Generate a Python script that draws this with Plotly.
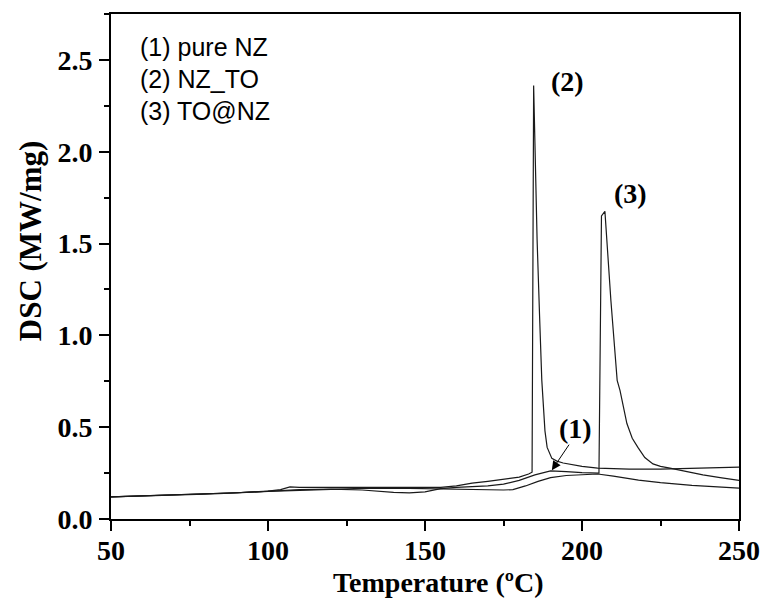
import plotly.graph_objects as go

# DSC heating curves (temperature in deg C, heat flow in MW/mg)
temp_pure = [50, 60, 70, 80, 90, 100, 110, 120, 130, 140, 150, 155, 160, 165, 170,
             175, 178, 182, 186, 190, 195, 200, 205, 210, 218, 225, 235, 250]
dsc_pure = [0.120, 0.125, 0.130, 0.136, 0.143, 0.150, 0.155, 0.163, 0.167, 0.168,
            0.165, 0.163, 0.160, 0.158, 0.157, 0.158, 0.160, 0.180, 0.205, 0.225,
            0.237, 0.243, 0.245, 0.233, 0.212, 0.198, 0.183, 0.168]

temp_nzto = [50, 60, 70, 80, 90, 100, 104, 107, 110, 120, 130, 140, 150, 155, 160,
             165, 170, 175, 180, 183, 184.1, 184.6, 185.7, 186.5, 187.2, 188.2,
             188.9, 190.4, 192, 194, 200, 205, 215, 225, 235, 245, 250]
dsc_nzto = [0.120, 0.125, 0.130, 0.137, 0.143, 0.152, 0.160, 0.175, 0.172, 0.172,
            0.172, 0.172, 0.170, 0.172, 0.180, 0.195, 0.205, 0.215, 0.228, 0.245,
            0.255, 2.360, 1.520, 1.100, 0.755, 0.480, 0.390, 0.330, 0.315, 0.305,
            0.287, 0.277, 0.272, 0.272, 0.275, 0.278, 0.283]

temp_tonz = [50, 60, 70, 80, 90, 100, 110, 120, 130, 140, 145, 150, 155, 160, 165,
             170, 175, 180, 185, 190, 195, 200, 205.4, 206.2, 207.3, 209.2, 211.2,
             212.1, 214.3, 216, 217.8, 220, 222.6, 225, 228, 232, 238.5, 244, 250]
dsc_tonz = [0.120, 0.124, 0.130, 0.136, 0.142, 0.150, 0.160, 0.163, 0.158, 0.145,
            0.142, 0.148, 0.165, 0.172, 0.175, 0.180, 0.190, 0.210, 0.240, 0.262,
            0.258, 0.252, 0.250, 1.650, 1.675, 1.190, 0.755, 0.700, 0.520, 0.440,
            0.390, 0.335, 0.300, 0.287, 0.277, 0.262, 0.240, 0.225, 0.210]

legend_lines = ["(1) pure NZ", "(2) NZ_TO", "(3) TO@NZ"]
x_ticks = [50, 100, 150, 200, 250]
y_ticks = [0.0, 0.5, 1.0, 1.5, 2.0, 2.5]

line_style = dict(color="#1a1a1a", width=1.2)

fig = go.Figure()
for t, d in [(temp_pure, dsc_pure), (temp_nzto, dsc_nzto), (temp_tonz, dsc_tonz)]:
    fig.add_trace(go.Scatter(x=t, y=d, mode="lines", line=line_style,
                             showlegend=False, hoverinfo="skip"))

def serif_bold(size):
    return dict(family="Liberation Serif", size=size, color="black", weight="bold")

axis_common = dict(
    showline=True, linecolor="black", linewidth=2, mirror=True,
    ticks="outside", ticklen=10, tickwidth=2, tickcolor="black",
    showgrid=False, zeroline=False, tickfont=serif_bold(28), automargin=False,
)

fig.update_xaxes(range=[50, 250], tickvals=x_ticks,
                 ticktext=[str(v) for v in x_ticks],
                 minor=dict(dtick=25, ticks="outside", ticklen=5, tickwidth=2,
                            tickcolor="black", showgrid=False),
                 ticklabelstandoff=-5,
                 **axis_common)
fig.update_yaxes(range=[0, 2.75], tickvals=y_ticks,
                 ticktext=[f"{v:.1f}" for v in y_ticks],
                 minor=dict(dtick=0.25, ticks="outside", ticklen=5, tickwidth=2,
                            tickcolor="black", showgrid=False),
                 ticklabelstandoff=1,
                 **axis_common)

annotations = []
# axis titles
annotations.append(dict(x=0.521, y=-0.125, xref="paper", yref="paper",
                        xanchor="center", yanchor="middle", showarrow=False,
                        text="Temperature (ºC)", font=serif_bold(28)))
annotations.append(dict(x=-0.129, y=0.552, xref="paper", yref="paper",
                        xanchor="center", yanchor="middle", showarrow=False,
                        textangle=-90, text="DSC (MW/mg)", font=serif_bold(31)))
# curve labels
for label, x, y in [("(2)", 195.5, 2.38), ("(3)", 215.3, 1.77), ("(1)", 197.8, 0.495)]:
    annotations.append(dict(x=x, y=y, xref="x", yref="y", text=label,
                            showarrow=False, font=serif_bold(28)))
# arrow from the (1) label to the pure NZ curve
annotations.append(dict(x=190.4, y=0.266, ax=196.2, ay=0.413, xref="x", yref="y",
                        axref="x", ayref="y", text="", showarrow=True,
                        arrowhead=2, arrowsize=1.8, arrowwidth=1, arrowcolor="black"))
# legend block
for i, txt in enumerate(legend_lines):
    annotations.append(dict(x=0.043, y=0.935 - i * 0.0635, xref="paper", yref="paper",
                            xanchor="left", yanchor="middle", text=txt, showarrow=False,
                            font=dict(family="Liberation Sans", size=25, color="black")))

fig.update_layout(
    width=763, height=606,
    margin=dict(l=111, r=24, t=14, b=87),
    paper_bgcolor="white", plot_bgcolor="white",
    annotations=annotations,
)

fig.write_html("out.html")
